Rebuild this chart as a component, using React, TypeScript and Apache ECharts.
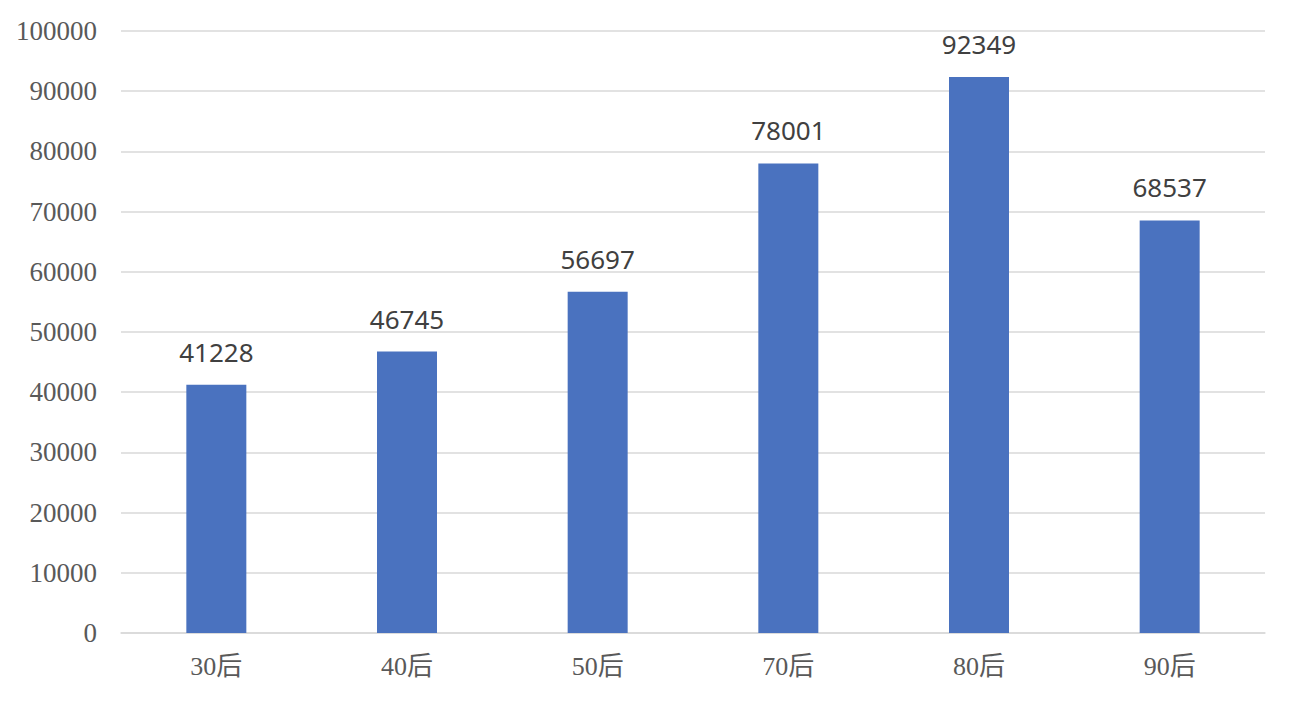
import React, { useEffect, useRef } from "react";
import * as echarts from "echarts";

const categories = ["30后", "40后", "50后", "70后", "80后", "90后"];
const values = [41228, 46745, 56697, 78001, 92349, 68537];
const yMin = 0;
const yMax = 100000;
const yInterval = 10000;

export default function App() {
  const ref = useRef<HTMLDivElement>(null);
  useEffect(() => {
    if (!ref.current) return;
    const chart = echarts.init(ref.current, null, { renderer: "svg" });
    chart.setOption({
      animation: false,
      backgroundColor: "#ffffff",
      grid: { left: 121, right: 31, top: 31, bottom: 69, containLabel: false },
      xAxis: {
        type: "category",
        data: categories,
        axisLine: { show: true, lineStyle: { color: "#d9d9d9", width: 1.5 } },
        axisTick: { show: false },
        axisLabel: {
          color: "#595959",
          fontSize: 26,
          fontFamily: "'Liberation Serif', 'Noto Sans CJK SC', serif",
          margin: 20,
        },
      },
      yAxis: {
        type: "value",
        min: yMin,
        max: yMax,
        interval: yInterval,
        axisLine: { show: false },
        axisTick: { show: false },
        splitLine: { lineStyle: { color: "#d9d9d9", width: 1.5 } },
        axisLabel: {
          color: "#595959",
          fontSize: 27,
          fontFamily: "'Liberation Serif', serif",
          margin: 24,
          formatter: (v: number) => String(v),
        },
      },
      series: [
        {
          type: "bar",
          data: values,
          barWidth: 60,
          itemStyle: { color: "#4a72bf" },
          label: {
            show: true,
            position: "top",
            distance: 20,
            color: "#404040",
            fontSize: 26,
            fontFamily: "'Noto Sans', sans-serif",
          },
        },
      ],
    });
    return () => chart.dispose();
  }, []);
  return (
    <div
      ref={ref}
      style={{ position: "absolute", left: 0, top: 0, width: 1296, height: 702 }}
    />
  );
}
